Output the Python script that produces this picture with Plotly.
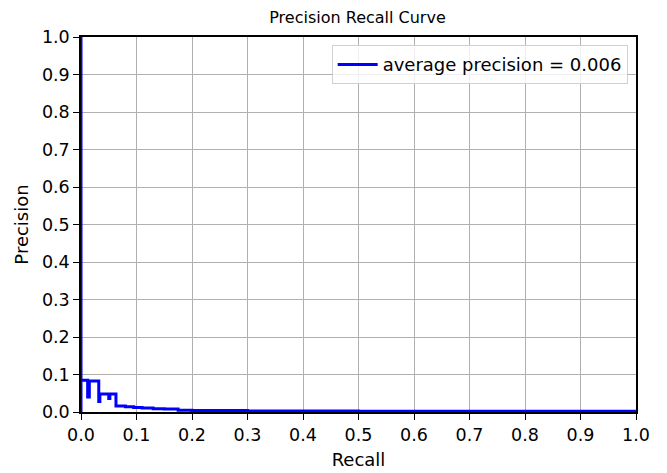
import plotly.graph_objects as go

# step points of the precision-recall curve
recall = [0.0, 0.0, 0.0, 0.012, 0.015, 0.032, 0.034, 0.050, 0.052, 0.063,
          0.080, 0.095, 0.110, 0.130, 0.150, 0.175, 0.200, 0.300, 0.500, 1.0]
precision = [0.0, 1.0, 0.085, 0.040, 0.083, 0.028, 0.048, 0.036, 0.048, 0.016,
             0.014, 0.012, 0.011, 0.009, 0.008, 0.005, 0.004, 0.003, 0.002, 0.002]
avg_precision = 0.006
ticks = [i / 10 for i in range(11)]

fig = go.Figure()
fig.add_trace(go.Scatter(
    x=recall, y=precision, mode="lines", line_shape="hv",
    line=dict(color="#0000ff", width=3),
    name=f"average precision = {avg_precision:.3f}",
))

axis_style = dict(
    range=[0, 1], tickvals=ticks, tickformat=".1f",
    showgrid=True, gridcolor="#b0b0b0", gridwidth=1,
    showline=True, linecolor="black", linewidth=1.5, mirror=True,
    ticks="outside", ticklen=6, tickcolor="black", tickwidth=1.2,
    zeroline=False, layer="below traces", automargin=False,
    tickfont=dict(size=17.5, color="black"),
    title_font=dict(size=18, color="black"),
)

# the page body adds an 8px offset, so margins are shifted to compensate
fig.update_layout(
    width=667, height=473,
    margin=dict(l=73, r=39, t=29, b=69),
    paper_bgcolor="white", plot_bgcolor="white",
    font=dict(family="DejaVu Sans", color="black"),
    title=dict(text="Precision Recall Curve", x=0.524, xanchor="center",
               y=0.981, yanchor="middle", font=dict(size=16)),
    xaxis=dict(axis_style, title=dict(text="Recall", standoff=10)),
    yaxis=dict(axis_style, title=dict(text="Precision", standoff=9)),
    showlegend=True,
    legend=dict(x=0.985, y=0.978, xanchor="right", yanchor="top",
                itemwidth=40, tracegroupgap=0,
                bgcolor="rgba(255,255,255,0.8)", bordercolor="#d0d0d0",
                borderwidth=1, font=dict(size=18)),
)

fig.write_html("out.html")
